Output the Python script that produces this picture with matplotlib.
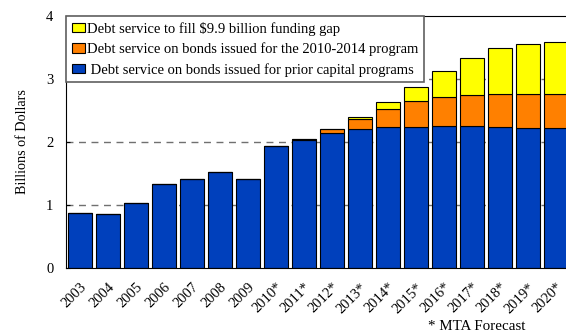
import numpy as np
import matplotlib
matplotlib.use('Agg')
import matplotlib.pyplot as plt

# ---------------------- Data (billions of dollars)

years = ['2003', '2004', '2005', '2006', '2007', '2008', '2009', '2010*', '2011*',
         '2012*', '2013*', '2014*', '2015*', '2016*', '2017*', '2018*', '2019*', '2020*']
prior = [0.87, 0.86, 1.03, 1.33, 1.42, 1.53, 1.41, 1.94, 2.03,
         2.14, 2.20, 2.24, 2.24, 2.25, 2.25, 2.24, 2.23, 2.23]
program = [0, 0, 0, 0, 0, 0, 0, 0, 0.02,
           0.07, 0.17, 0.29, 0.41, 0.46, 0.50, 0.52, 0.53, 0.53]
gap = [0, 0, 0, 0, 0, 0, 0, 0, 0,
       0, 0.03, 0.10, 0.22, 0.42, 0.59, 0.73, 0.80, 0.83]

labels = ['Debt service to fill $9.9 billion funding gap',
          'Debt service on bonds issued for the 2010-2014 program',
          ' Debt service on bonds issued for prior capital programs']

# ---------------------- Plot

plt.rcParams['font.family'] = ['Liberation Serif', 'DejaVu Serif']
plt.rcParams['font.size'] = 10.5

colorBlue = '#0040BC'
colorOrange = '#FF8000'
colorYellow = '#FFFF00'

fig = plt.figure(figsize=(5.66, 3.33), dpi=100)
ax = fig.add_axes([0.1166, 0.195, 0.8834, 0.757])

x = np.arange(len(years))
prior = np.array(prior)
program = np.array(program)
gap = np.array(gap)
w = 0.86

b1 = ax.bar(x, prior, w, color=colorBlue, edgecolor='black', linewidth=0.8, zorder=2)
b2 = ax.bar(x, program, w, bottom=prior, color=colorOrange, edgecolor='black',
            linewidth=0.8, zorder=2)
b3 = ax.bar(x, gap, w, bottom=prior + program, color=colorYellow, edgecolor='black',
            linewidth=0.8, zorder=2)

for yv in [1, 2, 3]:
    ax.axhline(yv, color='#707070', linestyle=(0, (5, 4)), linewidth=1, zorder=1)

ax.set_xlim(-0.5, 17.36)
ax.set_ylim(0, 4)
ax.set_yticks([0, 1, 2, 3, 4])
ax.set_xticks(x)
ax.set_xticklabels(years, rotation=45, ha='right', rotation_mode='anchor')
ax.tick_params(axis='y', length=3, direction='in', pad=9)
ax.tick_params(axis='x', length=0, pad=9)
ax.spines['right'].set_visible(False)
ax.set_ylabel('Billions of Dollars', labelpad=12, fontsize=10.2)

leg = ax.legend([b3, b2, b1], labels, loc='upper left', bbox_to_anchor=(0, 1),
                fancybox=False, framealpha=1, edgecolor='#606060',
                borderaxespad=0, handlelength=0.9, handleheight=0.6,
                handletextpad=0.15, labelspacing=0.45, borderpad=0.4,
                fontsize=10.5)
leg.get_frame().set_linewidth(1.2)

fig.text(0.757, 0.01, '* MTA Forecast', fontsize=10.8)

plt.savefig('out.png', dpi=100)
